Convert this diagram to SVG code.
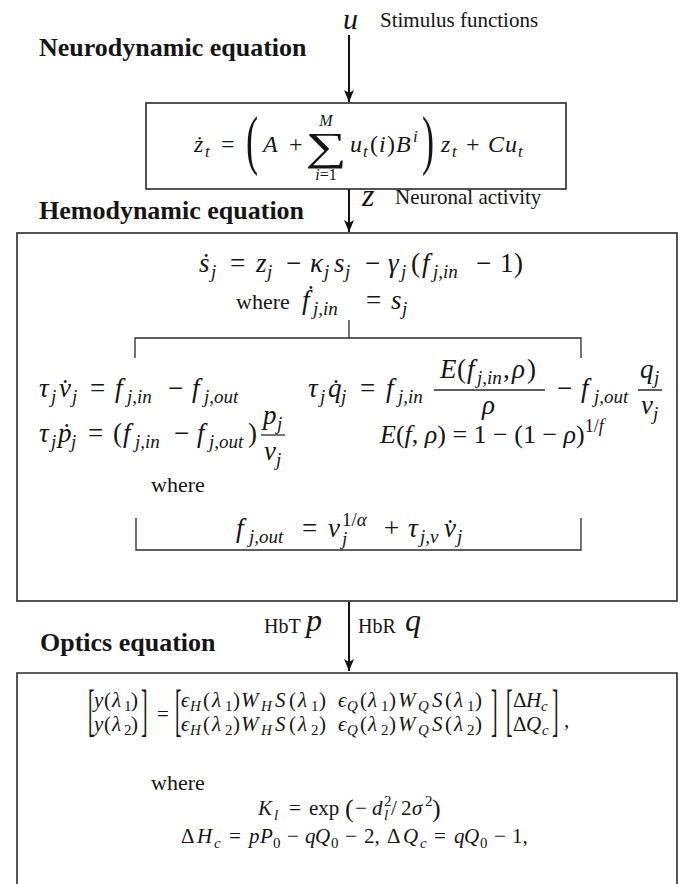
<svg xmlns="http://www.w3.org/2000/svg" width="682" height="884" viewBox="0 0 682 884">
<style>
text{font-family:"Liberation Serif","Times New Roman","DejaVu Serif",serif;fill:#151515}
.i{font-style:italic}
.h{font-weight:bold;font-size:26px}
.lab{font-size:21px}
.box{fill:#fff;stroke:#2a2a2a;stroke-width:1.6}
.br{fill:none;stroke:#2a2a2a;stroke-width:1.3}
.arr{stroke:#111;stroke-width:2;fill:none}
</style>
<defs>
<marker id="ah" viewBox="0 0 12 10" refX="12" refY="5" markerWidth="12" markerHeight="10" markerUnits="userSpaceOnUse" orient="auto">
<path d="M0,0 L12,5 L0,10 L3,5 z" fill="#111"/>
</marker>
</defs>
<rect width="682" height="884" fill="#fff"/>

<g id="connectors">
<line class="arr" x1="349" y1="35" x2="349" y2="102" marker-end="url(#ah)"/>
<line class="arr" x1="349" y1="189" x2="349" y2="232" marker-end="url(#ah)"/>
<line class="arr" x1="349" y1="602" x2="349" y2="671" marker-end="url(#ah)"/>
</g>

<g id="labels">
<text class="i" x="343" y="29" font-size="30">u</text>
<text class="lab" x="380" y="27">Stimulus functions</text>
<text class="h" x="39" y="56">Neurodynamic equation</text>
<text class="i" x="362" y="206" font-size="32">z</text>
<text class="lab" x="395" y="204">Neuronal activity</text>
<text class="h" x="39" y="219">Hemodynamic equation</text>
<text x="264" y="633" font-size="20">HbT</text>
<text class="i" x="306" y="631" font-size="32">p</text>
<text x="358" y="633" font-size="20">HbR</text>
<text class="i" x="405" y="631" font-size="32">q</text>
<text class="h" x="40" y="651">Optics equation</text>
</g>

<g id="node-neuro">
<rect class="box" x="146" y="103" width="420" height="86"/>
<text font-size="24">
<tspan class="i" x="194" y="152">z&#x307;</tspan><tspan class="i" x="205" y="157" font-size="17">t</tspan>
<tspan x="221" y="152">=</tspan>
<tspan class="i" x="263" y="152">A</tspan>
<tspan x="289" y="152">+</tspan>
<tspan class="i" x="350" y="152">u</tspan><tspan class="i" x="363" y="157" font-size="17">t</tspan>
<tspan x="370" y="152">(</tspan><tspan class="i" x="379" y="152">i</tspan><tspan x="387" y="152">)</tspan>
<tspan class="i" x="396" y="152">B</tspan><tspan class="i" x="413" y="142" font-size="17">i</tspan>
<tspan class="i" x="441" y="152">z</tspan><tspan class="i" x="452" y="157" font-size="17">t</tspan>
<tspan x="466" y="152">+</tspan>
<tspan class="i" x="488" y="152">C</tspan><tspan class="i" x="505" y="152">u</tspan><tspan class="i" x="518" y="157" font-size="17">t</tspan>
</text>
<text transform="translate(326,0) scale(1.45,1)" x="0" y="160" font-size="40" text-anchor="middle">∑</text>
<text class="i" x="326" y="126" font-size="16" text-anchor="middle">M</text>
<text x="326" y="180" font-size="16" text-anchor="middle"><tspan class="i">i</tspan>=1</text>
<text transform="translate(246,0) scale(0.55,1)" x="0" y="162" font-size="66">(</text>
<text transform="translate(422,0) scale(0.55,1)" x="0" y="162" font-size="66">)</text>
</g>

<g id="node-hemo">
<rect class="box" x="17" y="233" width="660" height="368"/>
<text font-size="27">
<tspan class="i" x="199" y="272">s&#x307;</tspan><tspan class="i" x="211" y="278" font-size="19">j</tspan>
<tspan x="230" y="272">=</tspan>
<tspan class="i" x="256" y="272">z</tspan><tspan class="i" x="267" y="278" font-size="19">j</tspan>
<tspan x="286" y="272">−</tspan>
<tspan class="i" x="310" y="272">κ</tspan><tspan class="i" x="324" y="278" font-size="19">j</tspan>
<tspan class="i" x="334" y="272">s</tspan><tspan class="i" x="345" y="278" font-size="19">j</tspan>
<tspan x="365" y="272">−</tspan>
<tspan class="i" x="388" y="272">γ</tspan><tspan class="i" x="401" y="278" font-size="19">j</tspan>
<tspan x="411" y="272">(</tspan>
<tspan class="i" x="422" y="272">f</tspan><tspan class="i" x="433" y="278" font-size="19">j,in</tspan>
<tspan x="476" y="272">−</tspan>
<tspan x="500" y="272">1</tspan><tspan x="514" y="272">)</tspan>
</text>
<text x="236" y="309" font-size="22">where</text>
<text font-size="27">
<tspan class="i" x="302" y="309">f&#x307;</tspan><tspan class="i" x="313" y="315" font-size="19">j,in</tspan>
<tspan x="366" y="309">=</tspan>
<tspan class="i" x="391" y="309">s</tspan><tspan class="i" x="402" y="315" font-size="19">j</tspan>
</text>
<path class="br" d="M349,320 V338 M135,358 V338 H581 V358"/>

<text font-size="27">
<tspan class="i" x="39" y="397">τ</tspan><tspan class="i" x="51" y="403" font-size="19">j</tspan>
<tspan class="i" x="59" y="397">v&#x307;</tspan><tspan class="i" x="72" y="403" font-size="19">j</tspan>
<tspan x="90" y="397">=</tspan>
<tspan class="i" x="115" y="397">f</tspan><tspan class="i" x="127" y="403" font-size="19">j,in</tspan>
<tspan x="168" y="397">−</tspan>
<tspan class="i" x="192" y="397">f</tspan><tspan class="i" x="204" y="403" font-size="19">j,out</tspan>
</text>

<text font-size="27">
<tspan class="i" x="308" y="397">τ</tspan><tspan class="i" x="320" y="403" font-size="19">j</tspan>
<tspan class="i" x="328" y="397">q&#x307;</tspan><tspan class="i" x="341" y="403" font-size="19">j</tspan>
<tspan x="360" y="397">=</tspan>
<tspan class="i" x="386" y="397">f</tspan><tspan class="i" x="398" y="403" font-size="19">j,in</tspan>
<tspan class="i" x="440" y="378">E</tspan><tspan x="457" y="378">(</tspan>
<tspan class="i" x="467" y="378">f</tspan><tspan class="i" x="477" y="384" font-size="19">j,in</tspan>
<tspan x="503" y="378">,</tspan><tspan class="i" x="512" y="378">ρ</tspan><tspan x="527" y="378">)</tspan>
<tspan class="i" x="482" y="414">ρ</tspan>
<tspan x="557" y="397">−</tspan>
<tspan class="i" x="581" y="397">f</tspan><tspan class="i" x="594" y="403" font-size="19">j,out</tspan>
<tspan class="i" x="640" y="378">q</tspan><tspan class="i" x="654" y="384" font-size="19">j</tspan>
<tspan class="i" x="641" y="414">v</tspan><tspan class="i" x="653" y="420" font-size="19">j</tspan>
</text>
<path class="br" d="M434,390 H545 M638,390 H662" stroke-width="1.2"/>

<text font-size="27">
<tspan class="i" x="39" y="442">τ</tspan><tspan class="i" x="51" y="448" font-size="19">j</tspan>
<tspan class="i" x="58" y="442">p&#x307;</tspan><tspan class="i" x="71" y="448" font-size="19">j</tspan>
<tspan x="88" y="442">=</tspan>
<tspan x="113" y="442">(</tspan>
<tspan class="i" x="123" y="442">f</tspan><tspan class="i" x="135" y="448" font-size="19">j,in</tspan>
<tspan x="174" y="442">−</tspan>
<tspan class="i" x="197" y="442">f</tspan><tspan class="i" x="209" y="448" font-size="19">j,out</tspan>
<tspan x="248" y="442">)</tspan>
<tspan class="i" x="263" y="424">p</tspan><tspan class="i" x="277" y="430" font-size="19">j</tspan>
<tspan class="i" x="264" y="460">v</tspan><tspan class="i" x="276" y="466" font-size="19">j</tspan>
</text>
<path class="br" d="M261,435 H285" stroke-width="1.2"/>

<text x="380" y="443" font-size="26"><tspan class="i">E</tspan>(<tspan class="i">f</tspan>, <tspan class="i">ρ</tspan>) = 1 − (1 − <tspan class="i">ρ</tspan>)<tspan font-size="18" dy="-11">1/<tspan class="i">f</tspan></tspan></text>

<text x="151" y="492" font-size="22">where</text>
<text font-size="27">
<tspan class="i" x="236" y="537">f</tspan><tspan class="i" x="249" y="543" font-size="19">j,out</tspan>
<tspan x="302" y="537">=</tspan>
<tspan class="i" x="328" y="537">v</tspan><tspan x="342" y="526" font-size="19">1/<tspan class="i">α</tspan></tspan><tspan class="i" x="342" y="545" font-size="19">j</tspan>
<tspan x="384" y="537">+</tspan>
<tspan class="i" x="408" y="537">τ</tspan><tspan class="i" x="420" y="543" font-size="19">j,v</tspan>
<tspan class="i" x="444" y="537">v&#x307;</tspan><tspan class="i" x="457" y="543" font-size="19">j</tspan>
</text>
<path class="br" d="M136,518 V550 H581 V518"/>
</g>

<g id="node-optics">
<path class="box" d="M17,886 V673 H677 V886"/>
<text transform="translate(88,0) scale(0.35,1)" x="0" y="729" font-size="56">[</text>
<text transform="translate(141,0) scale(0.35,1)" x="0" y="729" font-size="56">]</text>
<text transform="translate(175,0) scale(0.35,1)" x="0" y="729" font-size="56">[</text>
<text transform="translate(491,0) scale(0.35,1)" x="0" y="729" font-size="56">]</text>
<text transform="translate(506,0) scale(0.35,1)" x="0" y="729" font-size="56">[</text>
<text transform="translate(552,0) scale(0.35,1)" x="0" y="729" font-size="56">]</text>
<text font-size="21">
<tspan class="i" x="94" y="707">y</tspan><tspan x="104" y="707">(</tspan><tspan class="i" x="112" y="707">λ</tspan><tspan x="124" y="711" font-size="15">1</tspan><tspan x="131" y="707">)</tspan>
<tspan class="i" x="94" y="731">y</tspan><tspan x="104" y="731">(</tspan><tspan class="i" x="112" y="731">λ</tspan><tspan x="124" y="735" font-size="15">2</tspan><tspan x="131" y="731">)</tspan>
<tspan x="157" y="721">=</tspan>
<tspan class="i" x="181" y="707">ϵ</tspan><tspan class="i" x="190" y="711" font-size="15">H</tspan><tspan x="203" y="707">(</tspan><tspan class="i" x="212" y="707">λ</tspan><tspan x="225" y="711" font-size="15">1</tspan><tspan x="233" y="707">)</tspan><tspan class="i" x="241" y="707">W</tspan><tspan class="i" x="261" y="711" font-size="15">H</tspan><tspan class="i" x="275" y="707">S</tspan><tspan x="289" y="707">(</tspan><tspan class="i" x="298" y="707">λ</tspan><tspan x="311" y="711" font-size="15">1</tspan><tspan x="319" y="707">)</tspan>
<tspan class="i" x="338" y="707">ϵ</tspan><tspan class="i" x="347" y="711" font-size="15">Q</tspan><tspan x="360" y="707">(</tspan><tspan class="i" x="368" y="707">λ</tspan><tspan x="381" y="711" font-size="15">1</tspan><tspan x="389" y="707">)</tspan><tspan class="i" x="398" y="707">W</tspan><tspan class="i" x="418" y="711" font-size="15">Q</tspan><tspan class="i" x="432" y="707">S</tspan><tspan x="445" y="707">(</tspan><tspan class="i" x="454" y="707">λ</tspan><tspan x="467" y="711" font-size="15">1</tspan><tspan x="475" y="707">)</tspan>
<tspan class="i" x="181" y="731">ϵ</tspan><tspan class="i" x="190" y="735" font-size="15">H</tspan><tspan x="203" y="731">(</tspan><tspan class="i" x="212" y="731">λ</tspan><tspan x="225" y="735" font-size="15">2</tspan><tspan x="233" y="731">)</tspan><tspan class="i" x="241" y="731">W</tspan><tspan class="i" x="261" y="735" font-size="15">H</tspan><tspan class="i" x="275" y="731">S</tspan><tspan x="289" y="731">(</tspan><tspan class="i" x="298" y="731">λ</tspan><tspan x="311" y="735" font-size="15">2</tspan><tspan x="319" y="731">)</tspan>
<tspan class="i" x="338" y="731">ϵ</tspan><tspan class="i" x="347" y="735" font-size="15">Q</tspan><tspan x="360" y="731">(</tspan><tspan class="i" x="368" y="731">λ</tspan><tspan x="381" y="735" font-size="15">2</tspan><tspan x="389" y="731">)</tspan><tspan class="i" x="398" y="731">W</tspan><tspan class="i" x="418" y="735" font-size="15">Q</tspan><tspan class="i" x="432" y="731">S</tspan><tspan x="445" y="731">(</tspan><tspan class="i" x="454" y="731">λ</tspan><tspan x="467" y="735" font-size="15">2</tspan><tspan x="475" y="731">)</tspan>
<tspan x="513" y="707">Δ</tspan><tspan class="i" x="526" y="707">H</tspan><tspan class="i" x="541" y="711" font-size="15">c</tspan>
<tspan x="513" y="731">Δ</tspan><tspan class="i" x="526" y="731">Q</tspan><tspan class="i" x="542" y="735" font-size="15">c</tspan>
<tspan x="564" y="727">,</tspan>
</text>
<text x="151" y="790" font-size="22">where</text>
<text font-size="21">
<tspan class="i" x="258" y="815">K</tspan><tspan class="i" x="274" y="820" font-size="15">l</tspan>
<tspan x="289" y="815">=</tspan>
<tspan x="309" y="815">exp</tspan>
<tspan x="345" y="817" font-size="26">(</tspan>
<tspan x="355" y="815">−</tspan>
<tspan class="i" x="372" y="815">d</tspan><tspan x="384" y="806" font-size="15">2</tspan><tspan class="i" x="384" y="820" font-size="15">l</tspan>
<tspan x="391" y="815">/</tspan><tspan x="401" y="815">2</tspan>
<tspan class="i" x="412" y="815">σ</tspan><tspan x="425" y="806" font-size="15">2</tspan>
<tspan x="432" y="817" font-size="26">)</tspan>
</text>
<text font-size="21">
<tspan x="181" y="843">Δ</tspan><tspan class="i" x="197" y="843">H</tspan><tspan class="i" x="214" y="848" font-size="15">c</tspan>
<tspan x="229" y="843">=</tspan>
<tspan class="i" x="249" y="843">p</tspan><tspan class="i" x="260" y="843">P</tspan><tspan x="273" y="848" font-size="15">0</tspan>
<tspan x="287" y="843">−</tspan>
<tspan class="i" x="305" y="843">q</tspan><tspan class="i" x="315" y="843">Q</tspan><tspan x="331" y="848" font-size="15">0</tspan>
<tspan x="345" y="843">−</tspan>
<tspan x="364" y="843">2,</tspan>
<tspan x="387" y="843">Δ</tspan><tspan class="i" x="403" y="843">Q</tspan><tspan class="i" x="420" y="848" font-size="15">c</tspan>
<tspan x="434" y="843">=</tspan>
<tspan class="i" x="454" y="843">q</tspan><tspan class="i" x="464" y="843">Q</tspan><tspan x="480" y="848" font-size="15">0</tspan>
<tspan x="494" y="843">−</tspan>
<tspan x="512" y="843">1,</tspan>
</text>
</g>
</svg>
